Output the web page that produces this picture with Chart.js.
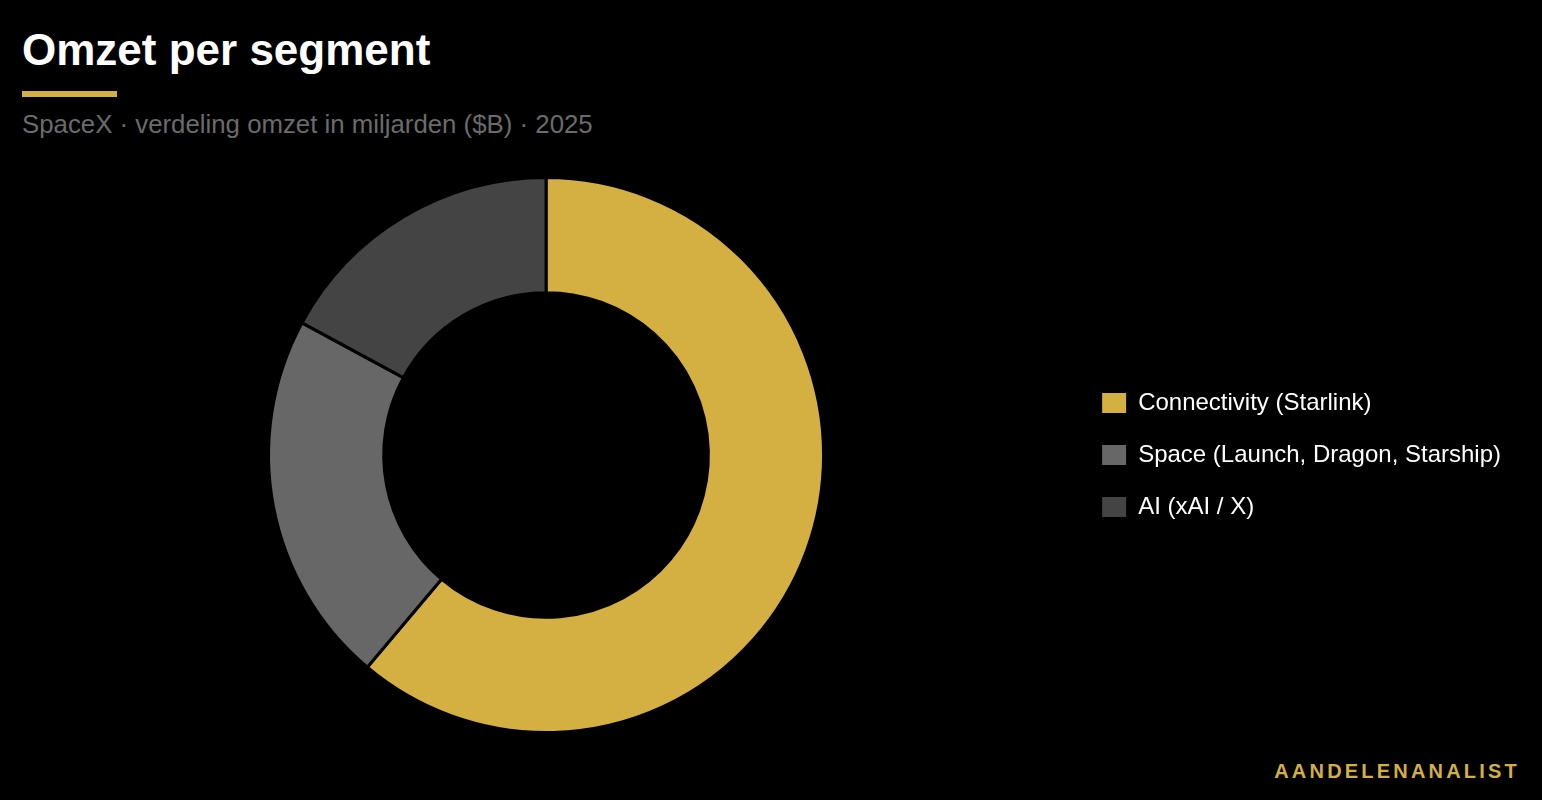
<!DOCTYPE html>
<html lang="nl">
<head>
<meta charset="utf-8">
<title>Omzet per segment</title>
<script src="https://cdn.jsdelivr.net/npm/chart.js@4.4.1/dist/chart.umd.min.js"></script>
<style>
  html, body { margin: 0; padding: 0; background: #000; }
  body { width: 1542px; height: 800px; position: relative; overflow: hidden; font-family: "Liberation Sans", Arial, Helvetica, sans-serif; }
  .title { position: absolute; left: 22px; top: 28px; font-size: 44px; line-height: 1; font-weight: bold; color: #fff; }
  .bar { position: absolute; left: 22px; top: 91px; width: 95px; height: 6px; background: #d4af41; }
  .sub { position: absolute; left: 22px; top: 112px; font-size: 25.8px; line-height: 1; color: #6b6b6b; }
  .brand { position: absolute; right: 22px; top: 761px; font-size: 20px; line-height: 1; font-weight: bold; letter-spacing: 3.2px; color: #d4af41; }
  .wrap { position: absolute; left: 0; top: 170px; width: 1542px; height: 570px; }
</style>
</head>
<body>
<div class="title">Omzet per segment</div>
<div class="bar"></div>
<div class="sub">SpaceX · verdeling omzet in miljarden ($B) · 2025</div>
<div class="wrap"><canvas id="segmentChart"></canvas></div>
<div class="brand">AANDELENANALIST</div>

<script>
// segmenten en omzet in miljarden ($B)
const segments = ['Connectivity (Starlink)', 'Space (Launch, Dragon, Starship)', 'AI (xAI / X)'];
const revenue = [11.8, 4.2, 3.3];
const segmentColors = ['#d4af41', '#676767', '#444444'];

function segmentChart() {
    const ctx = document.getElementById('segmentChart').getContext('2d');
    if (!ctx) {
        console.error('canvas niet gevonden');
        return;
    }

    // standaard legend-items, maar zonder zwarte rand om de vakjes
    const defaultLabels = Chart.overrides.doughnut.plugins.legend.labels.generateLabels;

    new Chart(ctx, {
        type: 'doughnut',
        data: {
            labels: segments,
            datasets: [{
                data: revenue,
                backgroundColor: segmentColors,
                borderColor: '#000',
                borderWidth: 3,
                hoverOffset: 0
            }]
        },
        options: {
            responsive: true,
            maintainAspectRatio: false,
            animation: false,
            cutout: '58.5%',
            layout: {
                padding: { left: 18, right: 31, top: 6, bottom: 6 }
            },
            plugins: {
                tooltip: { enabled: false },
                legend: {
                    position: 'right',
                    labels: {
                        color: '#fff',
                        boxWidth: 24,
                        boxHeight: 20,
                        padding: 28,
                        font: { family: '"Liberation Sans", Arial, Helvetica, sans-serif', size: 24 },
                        generateLabels: function (chart) {
                            return defaultLabels(chart).map(item => {
                                item.lineWidth = 0;
                                item.strokeStyle = 'rgba(0,0,0,0)';
                                return item;
                            });
                        }
                    }
                }
            }
        }
    });
}

segmentChart();
</script>
</body>
</html>
